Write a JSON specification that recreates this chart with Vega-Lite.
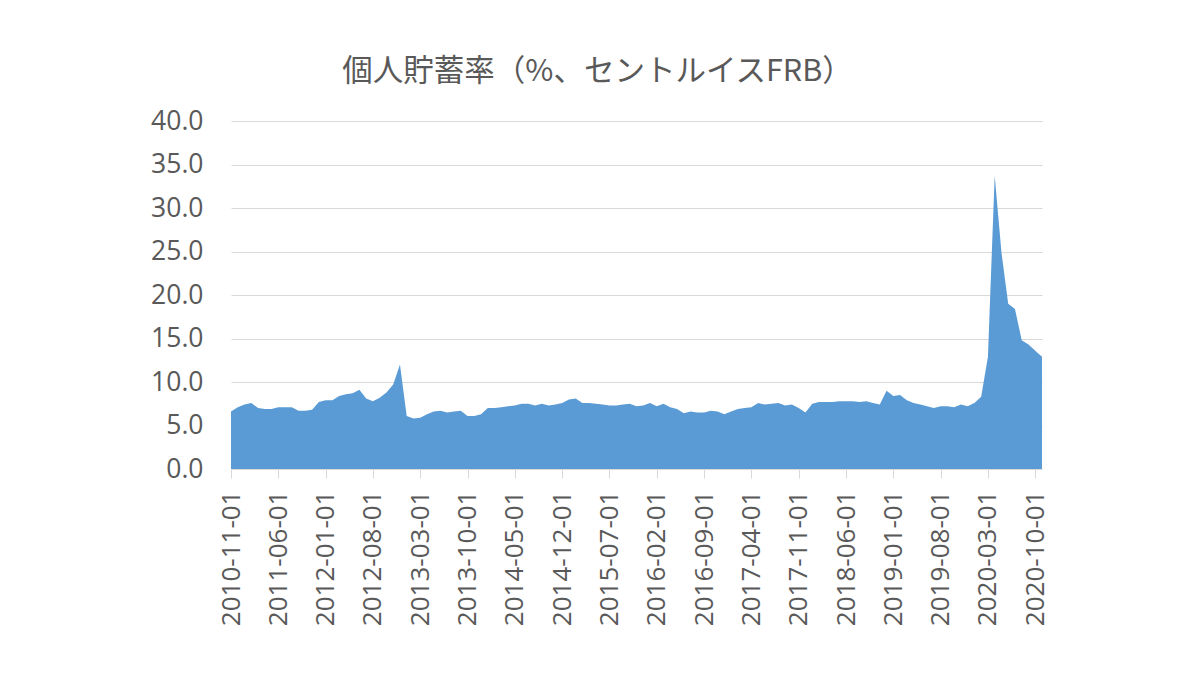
{
  "$schema": "https://vega.github.io/schema/vega-lite/v6.json",
  "width": 811,
  "height": 348,
  "autosize": {"type": "none"},
  "padding": {"left": 231, "top": 121, "right": 158, "bottom": 206},
  "background": "white",
  "title": {
    "text": "個人貯蓄率（%、セントルイスFRB）",
    "font": "Noto Sans CJK JP",
    "fontSize": 30.5,
    "fontWeight": "normal",
    "color": "#595959",
    "anchor": "middle",
    "frame": "group",
    "dx": -39,
    "offset": 21
  },
  "data": {
    "values": [
      {"date": "2010-11-01", "rate": 6.6},
      {"date": "2010-12-01", "rate": 7.1},
      {"date": "2011-01-01", "rate": 7.4},
      {"date": "2011-02-01", "rate": 7.6},
      {"date": "2011-03-01", "rate": 7.0},
      {"date": "2011-04-01", "rate": 6.9},
      {"date": "2011-05-01", "rate": 6.9},
      {"date": "2011-06-01", "rate": 7.1},
      {"date": "2011-07-01", "rate": 7.1},
      {"date": "2011-08-01", "rate": 7.1},
      {"date": "2011-09-01", "rate": 6.7},
      {"date": "2011-10-01", "rate": 6.7},
      {"date": "2011-11-01", "rate": 6.8},
      {"date": "2011-12-01", "rate": 7.7},
      {"date": "2012-01-01", "rate": 7.9},
      {"date": "2012-02-01", "rate": 7.9},
      {"date": "2012-03-01", "rate": 8.4},
      {"date": "2012-04-01", "rate": 8.6},
      {"date": "2012-05-01", "rate": 8.7},
      {"date": "2012-06-01", "rate": 9.1},
      {"date": "2012-07-01", "rate": 8.1},
      {"date": "2012-08-01", "rate": 7.8},
      {"date": "2012-09-01", "rate": 8.2},
      {"date": "2012-10-01", "rate": 8.8},
      {"date": "2012-11-01", "rate": 9.7},
      {"date": "2012-12-01", "rate": 12.0},
      {"date": "2013-01-01", "rate": 6.1},
      {"date": "2013-02-01", "rate": 5.8},
      {"date": "2013-03-01", "rate": 5.9},
      {"date": "2013-04-01", "rate": 6.3},
      {"date": "2013-05-01", "rate": 6.6},
      {"date": "2013-06-01", "rate": 6.7},
      {"date": "2013-07-01", "rate": 6.5},
      {"date": "2013-08-01", "rate": 6.6},
      {"date": "2013-09-01", "rate": 6.7},
      {"date": "2013-10-01", "rate": 6.1},
      {"date": "2013-11-01", "rate": 6.1},
      {"date": "2013-12-01", "rate": 6.3},
      {"date": "2014-01-01", "rate": 7.0},
      {"date": "2014-02-01", "rate": 7.0},
      {"date": "2014-03-01", "rate": 7.1},
      {"date": "2014-04-01", "rate": 7.2},
      {"date": "2014-05-01", "rate": 7.3},
      {"date": "2014-06-01", "rate": 7.5},
      {"date": "2014-07-01", "rate": 7.5},
      {"date": "2014-08-01", "rate": 7.3},
      {"date": "2014-09-01", "rate": 7.5},
      {"date": "2014-10-01", "rate": 7.3},
      {"date": "2014-11-01", "rate": 7.4},
      {"date": "2014-12-01", "rate": 7.6},
      {"date": "2015-01-01", "rate": 8.0},
      {"date": "2015-02-01", "rate": 8.1},
      {"date": "2015-03-01", "rate": 7.6},
      {"date": "2015-04-01", "rate": 7.6},
      {"date": "2015-05-01", "rate": 7.5},
      {"date": "2015-06-01", "rate": 7.4},
      {"date": "2015-07-01", "rate": 7.3},
      {"date": "2015-08-01", "rate": 7.3},
      {"date": "2015-09-01", "rate": 7.4},
      {"date": "2015-10-01", "rate": 7.5},
      {"date": "2015-11-01", "rate": 7.2},
      {"date": "2015-12-01", "rate": 7.3},
      {"date": "2016-01-01", "rate": 7.6},
      {"date": "2016-02-01", "rate": 7.2},
      {"date": "2016-03-01", "rate": 7.5},
      {"date": "2016-04-01", "rate": 7.1},
      {"date": "2016-05-01", "rate": 6.9},
      {"date": "2016-06-01", "rate": 6.4},
      {"date": "2016-07-01", "rate": 6.6},
      {"date": "2016-08-01", "rate": 6.5},
      {"date": "2016-09-01", "rate": 6.5},
      {"date": "2016-10-01", "rate": 6.7},
      {"date": "2016-11-01", "rate": 6.6},
      {"date": "2016-12-01", "rate": 6.3},
      {"date": "2017-01-01", "rate": 6.6},
      {"date": "2017-02-01", "rate": 6.9},
      {"date": "2017-03-01", "rate": 7.0},
      {"date": "2017-04-01", "rate": 7.1},
      {"date": "2017-05-01", "rate": 7.6},
      {"date": "2017-06-01", "rate": 7.4},
      {"date": "2017-07-01", "rate": 7.5},
      {"date": "2017-08-01", "rate": 7.6},
      {"date": "2017-09-01", "rate": 7.3},
      {"date": "2017-10-01", "rate": 7.4},
      {"date": "2017-11-01", "rate": 7.0},
      {"date": "2017-12-01", "rate": 6.5},
      {"date": "2018-01-01", "rate": 7.5},
      {"date": "2018-02-01", "rate": 7.7},
      {"date": "2018-03-01", "rate": 7.7},
      {"date": "2018-04-01", "rate": 7.7},
      {"date": "2018-05-01", "rate": 7.8},
      {"date": "2018-06-01", "rate": 7.8},
      {"date": "2018-07-01", "rate": 7.8},
      {"date": "2018-08-01", "rate": 7.7},
      {"date": "2018-09-01", "rate": 7.8},
      {"date": "2018-10-01", "rate": 7.6},
      {"date": "2018-11-01", "rate": 7.4},
      {"date": "2018-12-01", "rate": 9.0},
      {"date": "2019-01-01", "rate": 8.4},
      {"date": "2019-02-01", "rate": 8.5},
      {"date": "2019-03-01", "rate": 7.9},
      {"date": "2019-04-01", "rate": 7.6},
      {"date": "2019-05-01", "rate": 7.4},
      {"date": "2019-06-01", "rate": 7.2},
      {"date": "2019-07-01", "rate": 7.0},
      {"date": "2019-08-01", "rate": 7.2},
      {"date": "2019-09-01", "rate": 7.2},
      {"date": "2019-10-01", "rate": 7.1},
      {"date": "2019-11-01", "rate": 7.4},
      {"date": "2019-12-01", "rate": 7.2},
      {"date": "2020-01-01", "rate": 7.6},
      {"date": "2020-02-01", "rate": 8.3},
      {"date": "2020-03-01", "rate": 12.9},
      {"date": "2020-04-01", "rate": 33.7},
      {"date": "2020-05-01", "rate": 24.9},
      {"date": "2020-06-01", "rate": 19.0},
      {"date": "2020-07-01", "rate": 18.4},
      {"date": "2020-08-01", "rate": 14.8},
      {"date": "2020-09-01", "rate": 14.3},
      {"date": "2020-10-01", "rate": 13.6},
      {"date": "2020-11-01", "rate": 12.9}
    ]
  },
  "mark": {"type": "area", "color": "#5b9bd5", "opacity": 1},
  "encoding": {
    "x": {
      "field": "date",
      "type": "ordinal",
      "scale": {"type": "point", "padding": 0},
      "axis": {
        "values": ["2010-11-01", "2011-06-01", "2012-01-01", "2012-08-01", "2013-03-01", "2013-10-01", "2014-05-01", "2014-12-01", "2015-07-01", "2016-02-01", "2016-09-01", "2017-04-01", "2017-11-01", "2018-06-01", "2019-01-01", "2019-08-01", "2020-03-01", "2020-10-01"],
        "labelAngle": -90,
        "title": null,
        "labelFont": "Open Sans",
        "labelFontSize": 26,
        "labelColor": "#595959",
        "domainColor": "#d9d9d9",
        "tickColor": "#d9d9d9",
        "tickSize": 9,
        "labelPadding": 12,
        "grid": false
      }
    },
    "y": {
      "field": "rate",
      "type": "quantitative",
      "scale": {"domain": [0, 40], "nice": false},
      "axis": {
        "values": [0, 5, 10, 15, 20, 25, 30, 35, 40],
        "format": ".1f",
        "title": null,
        "domain": false,
        "ticks": false,
        "labelPadding": 28,
        "labelFont": "Open Sans",
        "labelFontSize": 26.5,
        "labelColor": "#595959",
        "gridColor": "#d9d9d9",
        "gridWidth": 1
      }
    }
  },
  "config": {"view": {"stroke": null}}
}
